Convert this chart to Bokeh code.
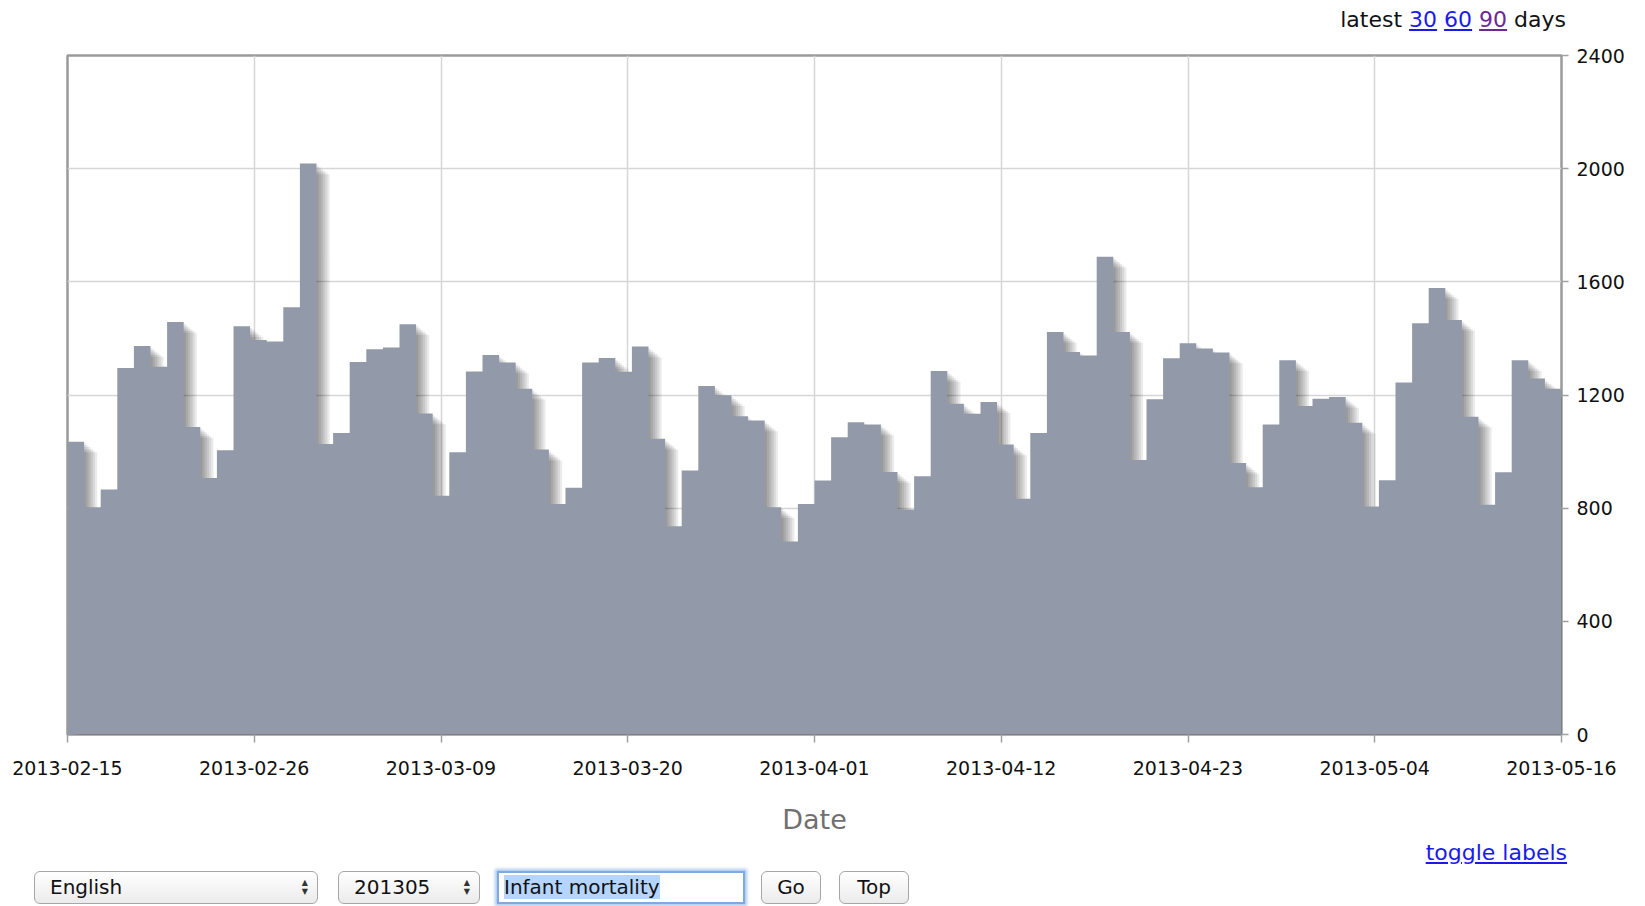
import numpy as np
from bokeh.plotting import figure
from bokeh.layouts import column
from bokeh.models import Range1d, FixedTicker, Div
from bokeh.embed import file_html
from bokeh.resources import INLINE

# ---------------- data ----------------
START_DATE = "2013-02-15"
VIEWS = [1035, 803, 866, 1295, 1373, 1300, 1458, 1087, 907, 1005,
         1443, 1394, 1389, 1510, 2018, 1027, 1066, 1317, 1362, 1368,
         1450, 1135, 844, 998, 1283, 1341, 1315, 1222, 1007, 815,
         872, 1315, 1331, 1282, 1371, 1045, 736, 933, 1232, 1199,
         1125, 1110, 803, 682, 815, 898, 1051, 1104, 1096, 928,
         795, 913, 1285, 1169, 1134, 1175, 1025, 833, 1066, 1423,
         1352, 1340, 1689, 1423, 970, 1185, 1330, 1383, 1364, 1350,
         960, 874, 1096, 1323, 1161, 1187, 1193, 1102, 806, 899,
         1244, 1454, 1578, 1465, 1123, 812, 927, 1323, 1258, 1222]
X_TICK_LABELS = ["2013-02-15", "2013-02-26", "2013-03-09", "2013-03-20",
                 "2013-04-01", "2013-04-12", "2013-04-23", "2013-05-04",
                 "2013-05-16"]
Y_TICKS = [0, 400, 800, 1200, 1600, 2000, 2400]
X_AXIS_TITLE = "Date"
LATEST_LINKS = ["30", "60", "90"]
LANGUAGE = "English"
MONTH = "201305"
ARTICLE = "Infant mortality"
BUTTONS = ["Go", "Top"]
TOGGLE = "toggle labels"

BAR_COLOR = "#929aa9"
LINK = "#1a1aee"
VISITED = "#6a2a95"
W = 1645
FONTCSS = "font-family:'DejaVu Sans',sans-serif;"

# ---------------- top strip (HTML) ----------------
link_cols = [LINK, LINK, VISITED]
links = " ".join(f'<a href="#" style="color:{c};text-decoration:underline;">{t}</a>'
                 for t, c in zip(LATEST_LINKS, link_cols))
top_html = (f'<div style="position:relative;width:{W}px;height:40px;{FONTCSS}">'
            f'<span style="position:absolute;right:79px;top:8px;font-size:22px;line-height:24px;'
            f'color:#111;white-space:nowrap;">latest {links} days</span></div>')
top_div = Div(text=top_html, width=W, height=40, margin=0)

# ---------------- main chart ----------------
n = len(VIEWS)
xi = np.arange(n)
xs = np.concatenate([[0], np.column_stack([xi, xi + 1]).ravel(), [n]])
ys = np.concatenate([[0], np.repeat(np.array(VIEWS, dtype=float), 2), [0]])

p = figure(width=W, height=802, x_range=Range1d(0, n), y_range=Range1d(0, 2400),
           y_axis_location="right", toolbar_location=None, output_backend="svg",
           min_border_left=67, min_border_right=84, min_border_top=15, min_border_bottom=108)
p.outline_line_color = "#9a9a9a"
p.outline_line_width = 2.5

px_day = (1561 - 67) / n
px_val = 679 / 2400
for k in range(1, 7):
    p.patch(xs + k * 2.2 / px_day, ys - k * 1.8 / px_val, color="black",
            fill_alpha=0.08, line_alpha=0)
p.patch(xs, ys, fill_color=BAR_COLOR, line_color=None)

xticks = [float(t) for t in np.linspace(0, n, len(X_TICK_LABELS))]
p.xaxis.ticker = FixedTicker(ticks=xticks)
p.xaxis.major_label_overrides = {t: lab for t, lab in zip(xticks, X_TICK_LABELS)}
p.xgrid.ticker = FixedTicker(ticks=xticks)
p.yaxis.ticker = FixedTicker(ticks=Y_TICKS)
p.ygrid.ticker = FixedTicker(ticks=Y_TICKS)

for ax in (p.xaxis, p.yaxis):
    ax.axis_line_color = None
    ax.major_tick_in = 0
    ax.minor_tick_line_color = None
    ax.major_tick_line_color = "#a0a0a0"
    ax.major_tick_line_width = 1.5
    ax.major_label_text_font = "DejaVu Sans"
    ax.major_label_text_font_size = "19px"
    ax.major_label_text_color = "#111111"
p.xaxis.major_tick_out = 8
p.xaxis.major_label_standoff = 18
p.yaxis.major_tick_out = 7
p.yaxis.major_label_standoff = 8
p.xaxis.axis_label = X_AXIS_TITLE
p.xaxis.axis_label_text_font = "DejaVu Sans"
p.xaxis.axis_label_text_font_size = "27px"
p.xaxis.axis_label_text_font_style = "normal"
p.xaxis.axis_label_text_color = "#707070"
p.xaxis.axis_label_standoff = 26
p.grid.grid_line_color = "#d6d6d6"
p.grid.grid_line_width = 1.5

# ---------------- bottom controls (HTML) ----------------
BOX = ("position:absolute;top:29px;height:33px;box-sizing:border-box;"
       "border:1px solid #a6a6a6;border-radius:6px;"
       "background:linear-gradient(#ffffff,#ebebeb);font-size:20px;line-height:31px;"
       "color:#111;white-space:nowrap;overflow:hidden;")
ARROWS = ('<span style="position:absolute;right:9px;top:6px;font-size:8px;line-height:9px;'
          'color:#333;">&#9650;<br>&#9660;</span>')


def sel(left, width, label):
    return (f'<div style="{BOX}left:{left}px;width:{width}px;padding-left:15px;">'
            f'{label}{ARROWS}</div>')


def btn(left, width, label):
    return (f'<div style="{BOX}left:{left}px;width:{width}px;text-align:center;">'
            f'{label}</div>')


inp = ('<div style="position:absolute;top:29px;left:497px;width:248px;height:33px;'
       'box-sizing:border-box;border:2px solid #7eaadf;box-shadow:0 0 3px 2px #a9c8ef;'
       'background:#fff;font-size:20px;line-height:29px;color:#111;padding-left:5px;'
       'white-space:nowrap;overflow:hidden;">'
       f'<span style="background:#b5d5ff;">{ARTICLE}</span></div>')

bottom_html = (f'<div style="position:relative;width:{W}px;height:62px;{FONTCSS}">'
               f'<a href="#" style="position:absolute;right:78px;top:0px;font-size:22px;'
               f'line-height:22px;color:{LINK};text-decoration:underline;">{TOGGLE}</a>'
               + sel(34, 284, LANGUAGE) + sel(338, 142, MONTH) + inp
               + btn(761, 60, BUTTONS[0]) + btn(839, 70, BUTTONS[1]) + '</div>')
bottom_div = Div(text=bottom_html, width=W, height=62, margin=0)

layout = column(top_div, p, bottom_div, spacing=0)
open("out.html", "w").write(file_html(layout, INLINE))
